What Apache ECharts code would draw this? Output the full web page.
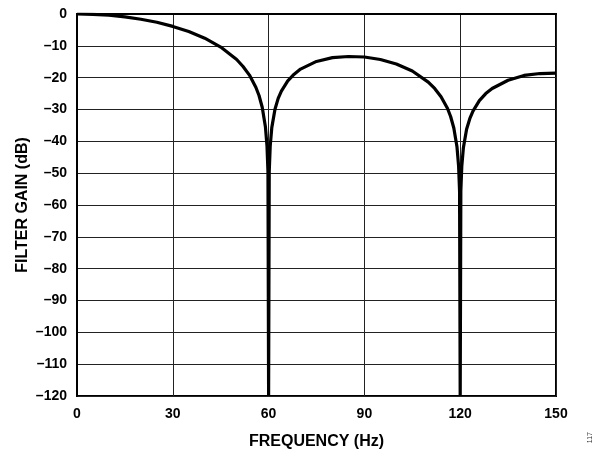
<!DOCTYPE html>
<html>
<head>
<meta charset="utf-8">
<script src="https://cdn.jsdelivr.net/npm/echarts@6/dist/echarts.min.js"></script>
<style>html,body{margin:0;padding:0;background:#fff}#c{width:597px;height:449px}</style>
</head>
<body>
<div id="c"></div>
<script>
const freq = [0, 5, 10, 15, 20, 25, 30, 35, 40, 45, 50, 52, 54, 56, 57, 58, 59, 59.5, 59.8, 60, 60.2, 60.5, 61, 62, 63, 64, 66, 68, 70, 75, 80, 85, 90, 95, 100, 105, 110, 112, 114, 116, 117, 118, 119, 119.5, 119.8, 120, 120.2, 120.5, 121, 122, 123, 124, 126, 128, 130, 135, 140, 145, 150];
const gain = [0, -0.1, -0.4, -0.9, -1.65, -2.6, -3.9, -5.5, -7.6, -10.4, -14.3, -16.5, -19.2, -23.0, -25.6, -29.3, -35.4, -41.5, -49.5, -120, -49.5, -41.6, -35.7, -29.9, -26.5, -24.2, -21.0, -18.9, -17.3, -14.9, -13.7, -13.35, -13.5, -14.3, -15.7, -17.9, -21.4, -23.4, -26.0, -29.6, -32.2, -35.8, -41.8, -47.8, -55.6, -120, -55.6, -47.8, -42.0, -36.2, -32.9, -30.5, -27.2, -25.0, -23.4, -20.8, -19.3, -18.7, -18.6];
const xTicks = [0, 30, 60, 90, 120, 150];
const yTicks = [0, -10, -20, -30, -40, -50, -60, -70, -80, -90, -100, -110, -120];

const pts = freq.map((f, i) => [f, gain[i]]);
const chart = echarts.init(document.getElementById('c'), null, {renderer: 'canvas'});
const ff = 'Liberation Sans, Arial, sans-serif';
const lab = {color: '#000', fontFamily: ff, fontWeight: 'bold', fontSize: 14};
const ttl = {color: '#000', fontFamily: ff, fontWeight: 'bold', fontSize: 16};
chart.setOption({
  animation: false,
  grid: {left: 77, right: 41, top: 14, bottom: 53, containLabel: false, outerBoundsMode: 'none', show: true, borderColor: '#000', borderWidth: 2, backgroundColor: 'transparent'},
  xAxis: {
    type: 'value', min: 0, max: 150, interval: 30,
    name: 'FREQUENCY (Hz)', nameLocation: 'middle', nameGap: 38, nameMoveOverlap: false,
    nameTextStyle: ttl,
    axisLine: {show: true, lineStyle: {color: '#000', width: 2}},
    axisTick: {show: false},
    axisLabel: Object.assign({margin: 11, formatter: v => xTicks.includes(v) ? String(v) : ''}, lab),
    splitLine: {show: true, lineStyle: {color: '#222', width: 1}}
  },
  yAxis: {
    type: 'value', min: -120, max: 0, interval: 10,
    name: 'FILTER GAIN (dB)', nameLocation: 'middle', nameGap: 46, nameMoveOverlap: false,
    nameTextStyle: ttl,
    axisLine: {show: true, lineStyle: {color: '#000', width: 2}},
    axisTick: {show: false},
    axisLabel: Object.assign({margin: 10, formatter: v => yTicks.includes(v) ? String(v).replace('-', '\u2013') : ''}, lab),
    splitLine: {show: true, lineStyle: {color: '#222', width: 1}}
  },
  series: [{
    type: 'line', data: pts, showSymbol: false, smooth: false, clip: true,
    lineStyle: {color: '#000', width: 3.2}
  }],
  graphic: [{
    type: 'text', left: 587, top: 432, rotation: Math.PI / 2,
    style: {text: '117', fill: '#333', font: '7px Liberation Sans, Arial, sans-serif'}
  }]
});
</script>
</body>
</html>
